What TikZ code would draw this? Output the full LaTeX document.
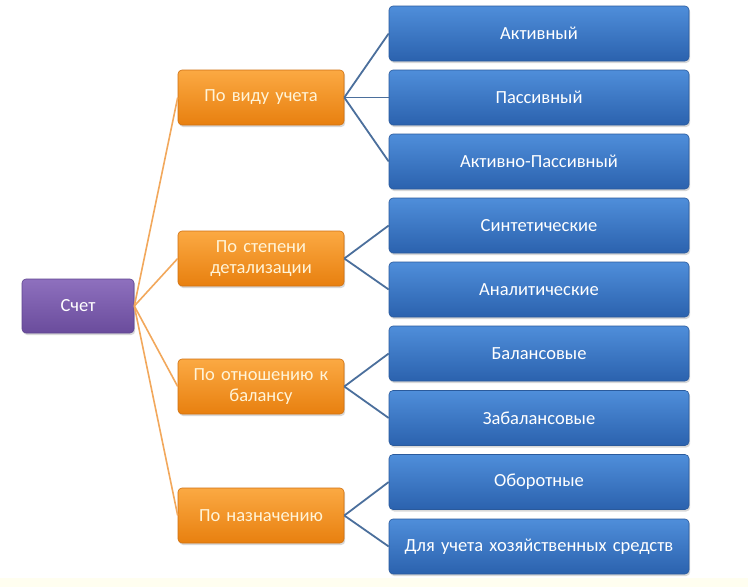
\documentclass[tikz,border=0pt]{standalone}
\usepackage{fontspec}
\setmainfont[WordSpace=0.7]{Carlito}
\usetikzlibrary{shadows}
\definecolor{btop}{HTML}{4F8EDA}
\definecolor{bbot}{HTML}{2B62AE}
\definecolor{bdraw}{HTML}{2A5A9C}
\definecolor{otop}{HTML}{FBA943}
\definecolor{obot}{HTML}{E8800F}
\definecolor{odraw}{HTML}{D07010}
\definecolor{ptop}{HTML}{8E70BE}
\definecolor{pbot}{HTML}{6A4C9C}
\definecolor{pdraw}{HTML}{5E4590}
\definecolor{oline}{HTML}{F2A85C}
\definecolor{bline}{HTML}{4B6F9C}
\definecolor{otext}{HTML}{FFF4D8}
\begin{document}
\begin{tikzpicture}[x=1pt,y=-1pt,
  basebox/.style={rounded corners=4pt, line width=0.6pt, inner sep=2pt, align=center,
    font=\fontsize{18.5}{21}\selectfont,
    drop shadow={shadow xshift=1.2pt, shadow yshift=-2pt, opacity=0.3}},
  bluebox/.style={basebox, draw=bdraw, top color=btop, bottom color=bbot, text=white,
    minimum width=300pt, minimum height=55pt, text width=292pt},
  orangebox/.style={basebox, draw=odraw, top color=otop, bottom color=obot, text=otext,
    minimum width=166pt, minimum height=55pt, text width=160pt},
  purplebox/.style={basebox, draw=pdraw, top color=ptop, bottom color=pbot, text=white,
    minimum width=112pt, minimum height=54pt, text width=104pt},
  oconn/.style={draw=oline, line width=1.6pt},
  bconn/.style={draw=bline, line width=1.8pt}]
\useasboundingbox (0,0) rectangle (748,587);
\fill[white] (0,0) rectangle (748,587);
\fill[yellow!6] (0,578) rectangle (748,587);

\node[purplebox] (s) at (78,306) {Счет};

\node[orangebox] (o1) at (261,97.5) {По виду учета};
\node[orangebox] (o2) at (261,258.5) {По степени\\детализации};
\node[orangebox] (o3) at (261,386.5) {По отношению к\\балансу};
\node[orangebox] (o4) at (261,515.5) {По назначению};

\node[bluebox] (b1) at (539,33.5) {Активный};
\node[bluebox] (b2) at (539,97.5) {Пассивный};
\node[bluebox] (b3) at (539,161.5) {Активно-Пассивный};
\node[bluebox] (b4) at (539,225.5) {Синтетические};
\node[bluebox] (b5) at (539,289.5) {Аналитические};
\node[bluebox] (b6) at (539,353.5) {Балансовые};
\node[bluebox] (b7) at (539,418) {Забалансовые};
\node[bluebox] (b8) at (539,482) {Оборотные};
\node[bluebox] (b9) at (539,546.5) {Для учета хозяйственных средств};

\foreach \o in {o1,o2,o3,o4} \draw[oconn] (s.east) -- (\o.west);
\foreach \b in {b1,b2,b3} \draw[bconn] (o1.east) -- (\b.west);
\foreach \b in {b4,b5} \draw[bconn] (o2.east) -- (\b.west);
\foreach \b in {b6,b7} \draw[bconn] (o3.east) -- (\b.west);
\foreach \b in {b8,b9} \draw[bconn] (o4.east) -- (\b.west);
\end{tikzpicture}
\end{document}
